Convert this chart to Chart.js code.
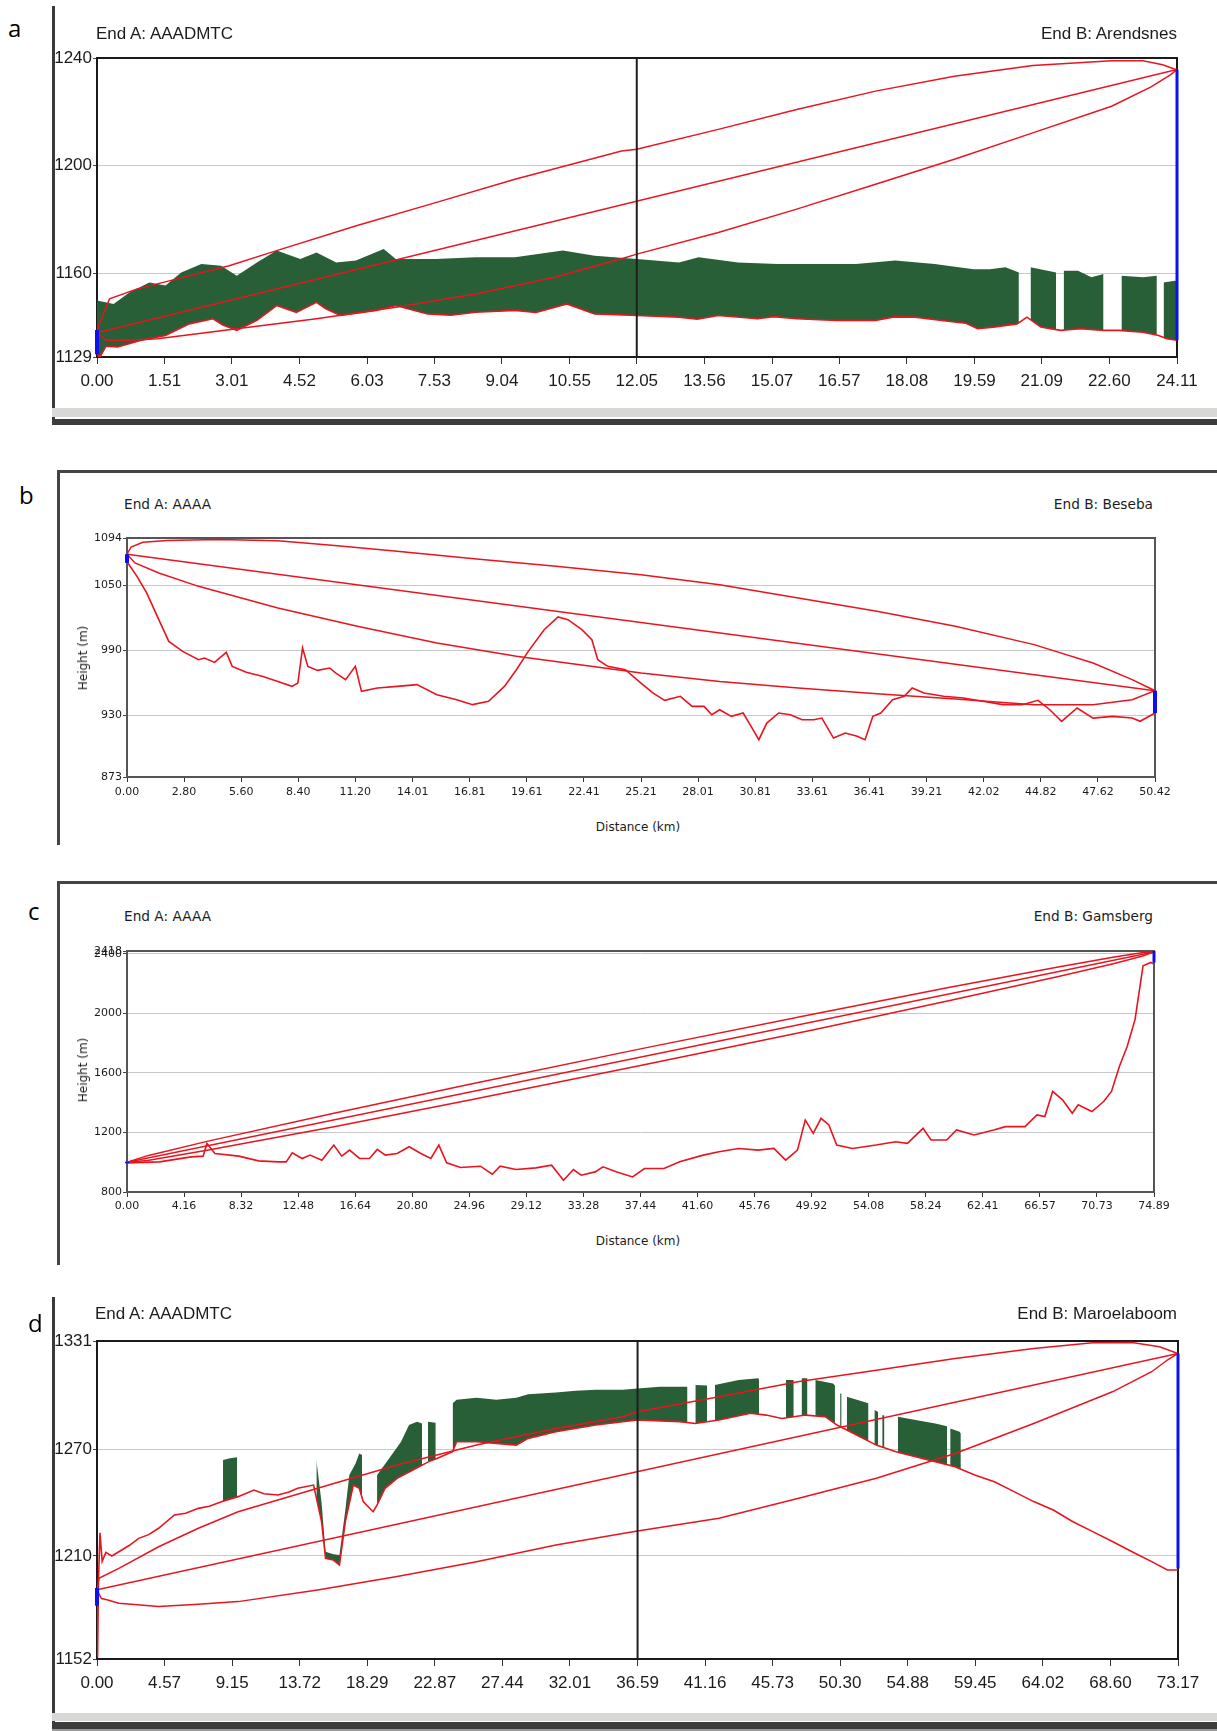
<!DOCTYPE html>
<html lang="en">
<head>
    <meta charset="UTF-8">
    <title>Link profiles</title>
    <script src="https://cdn.jsdelivr.net/npm/chart.js"></script>
    <style>
        body { margin: 0; width: 1217px; height: 1731px; position: relative; overflow: hidden; background: #fff; }
        canvas { position: absolute; }
        .t { position: absolute; white-space: nowrap; line-height: 1; color: #1c1c1c; }
        .big { font-family: 'Liberation Sans', Arial, sans-serif; font-size: 17px; }
        .small { font-family: 'DejaVu Sans', sans-serif; font-size: 13.7px; }
        .axis { font-family: 'DejaVu Sans', sans-serif; font-size: 12px; }
        .letter { font-family: 'Open Sans', 'Noto Sans', sans-serif; font-size: 24px; color: #000; }
        .bar { position: absolute; }
    </style>
</head>
<body>

    <!-- panel a -->
    <canvas id="chartA" width="1177" height="365" style="left:40px; top:40px;"></canvas>
    <div class="t letter" style="left:8px; top:16px;">a</div>
    <div class="t big" style="left:96px; top:25px;">End A: AAADMTC</div>
    <div class="t big" style="right:40px; top:25px;">End B: Arendsnes</div>
    <div class="bar" style="left:52px; top:6px; width:3px; height:419px; background:#3a3a3a;"></div>
    <div class="bar" style="left:52px; top:408px; width:1165px; height:9px; background:#d8d8d6;"></div>
    <div class="bar" style="left:52px; top:419px; width:1165px; height:6px; background:#3c3c3c;"></div>

    <!-- panel b -->
    <canvas id="chartB" width="1147" height="300" style="left:70px; top:520px;"></canvas>
    <div class="t letter" style="left:19px; top:483px;">b</div>
    <div class="t small" style="left:124px; top:498px;">End A: AAAA</div>
    <div class="t small" style="right:64px; top:498px;">End B: Beseba</div>
    <div class="t axis" style="left:83px; top:658px; transform: translate(-50%,-50%) rotate(-90deg);">Height (m)</div>
    <div class="t axis" style="left:638px; top:827px; transform: translate(-50%,-50%);">Distance (km)</div>
    <div class="bar" style="left:57px; top:470px; width:1160px; height:3px; background:#444;"></div>
    <div class="bar" style="left:57px; top:470px; width:3px; height:375px; background:#444;"></div>

    <!-- panel c -->
    <canvas id="chartC" width="1147" height="300" style="left:70px; top:930px;"></canvas>
    <div class="t letter" style="left:28px; top:899px;">c</div>
    <div class="t small" style="left:124px; top:910px;">End A: AAAA</div>
    <div class="t small" style="right:64px; top:910px;">End B: Gamsberg</div>
    <div class="t axis" style="left:83px; top:1070px; transform: translate(-50%,-50%) rotate(-90deg);">Height (m)</div>
    <div class="t axis" style="left:638px; top:1241px; transform: translate(-50%,-50%);">Distance (km)</div>
    <div class="bar" style="left:57px; top:881px; width:1160px; height:3px; background:#444;"></div>
    <div class="bar" style="left:57px; top:881px; width:3px; height:384px; background:#444;"></div>

    <!-- panel d -->
    <canvas id="chartD" width="1177" height="383" style="left:40px; top:1322px;"></canvas>
    <div class="t letter" style="left:28px; top:1311px;">d</div>
    <div class="t big" style="left:95px; top:1305px;">End A: AAADMTC</div>
    <div class="t big" style="right:40px; top:1305px;">End B: Maroelaboom</div>
    <div class="bar" style="left:52px; top:1297px; width:3px; height:434px; background:#3a3a3a;"></div>
    <div class="bar" style="left:52px; top:1713px; width:1165px; height:8px; background:#d8d8d6;"></div>
    <div class="bar" style="left:52px; top:1722px; width:1165px; height:7px; background:#3c3c3c;"></div>
    <div class="bar" style="left:52px; top:1729px; width:1165px; height:2px; background:#9a9a9a;"></div>

    <script>
        // ---- panel a: AAADMTC - Arendsnes (km, m) ----
        const aXTicks = ['0.00','1.51','3.01','4.52','6.03','7.53','9.04','10.55','12.05','13.56','15.07','16.57','18.08','19.59','21.09','22.60','24.11'];
        const aYTicks = ['1129','1160','1200','1240'];
        const aTerrain = [[0,1131],[0.05,1128.5],[0.2,1133],[0.46,1132.7],[0.99,1135.2],[1.53,1137],[2.06,1141.3],[2.59,1143.2],[2.8,1141],[3.12,1138.9],[3.57,1142.6],[4.01,1148.1],[4.45,1145.6],[4.9,1149.3],[5.1,1147],[5.43,1144.4],[6.23,1146.3],[6.67,1148.1],[7.38,1145],[7.9,1144.5],[8.45,1145.6],[9.33,1146.3],[9.8,1145.5],[10.49,1148.7],[11.11,1145],[12.05,1144.4],[12.99,1143.8],[13.4,1143],[13.87,1144.4],[14.75,1143.2],[15.1,1144],[15.62,1143.2],[16.5,1142.6],[17.38,1142.6],[17.8,1143.9],[18.26,1143.8],[19.14,1142],[19.4,1141.5],[19.66,1139.5],[20.01,1140.1],[20.54,1141.3],[20.76,1143.8],[21.07,1140.1],[21.51,1138.9],[21.95,1139.5],[22.47,1138.9],[22.82,1138.9],[23.35,1138.2],[23.7,1137],[23.88,1135.8],[24.11,1135.2]];
        const aClutter = [[0,1150],[0.37,1148.7],[0.73,1153],[1.17,1156.7],[1.53,1155.5],[1.88,1160.4],[2.33,1163.5],[2.77,1162.9],[3.12,1159.2],[3.57,1164.1],[4.01,1168.5],[4.54,1165.4],[4.9,1167.8],[5.34,1164.1],[5.78,1164.8],[6.4,1169.1],[6.67,1165.4],[7.56,1165.4],[8.45,1166],[9.33,1166],[10.4,1168.5],[11.11,1166.6],[12.05,1165.4],[12.99,1164.1],[13.43,1166],[14.31,1164.1],[15.19,1163.5],[16.06,1163.5],[16.94,1163.5],[17.82,1164.8],[18.7,1163.5],[19.57,1161.6],[19.93,1161.6],[20.28,1162.3],[20.58,1160.4],[20.7,null],[20.84,1162.3],[21.41,1160.4],[21.5,null],[21.58,1161],[21.9,1161],[22.2,1158.6],[22.47,1159.8],[22.65,null],[22.87,1159.2],[23.35,1158.6],[23.66,1159.2],[23.74,null],[23.81,1156.7],[24.06,1157.3],[24.11,1157]];
        const aUpper = [[0,1138],[0.02,1140],[0.28,1150.6],[0.9,1154.3],[1.79,1158],[2.95,1162.9],[4.01,1168.5],[5.79,1177.7],[7.56,1186.3],[9.33,1195],[11.71,1205.5],[12.05,1206.1],[13.87,1213.5],[15.62,1220.9],[17.38,1227.7],[19.14,1233.2],[20.89,1237.2],[22.65,1239],[23.35,1239],[23.79,1237.5],[24.05,1235.9],[24.11,1235.7]];
        const aLos = [[0,1138],[24.11,1235.7]];
        const aLower = [[0,1138],[0.2,1135.2],[0.73,1135.2],[1.35,1135.8],[2.24,1137.6],[3.12,1139.5],[4.9,1143.2],[6.67,1147.5],[8.45,1152.4],[10.22,1158.6],[11.71,1165.5],[12.05,1167.2],[13.87,1175.2],[15.62,1183.9],[17.38,1193.1],[19.14,1202.4],[20.89,1212.2],[22.65,1222.1],[23.53,1229.3],[23.97,1233.8],[24.11,1235.7]];
        const aSiteA = [[0,1130],[0,1139]];
        const aSiteB = [[24.11,1135.2],[24.11,1235.7]];
        const aMarker = [[12.05,1129],[12.05,1240]];

        // ---- panel b: AAAA - Beseba ----
        const bXTicks = ['0.00','2.80','5.60','8.40','11.20','14.01','16.81','19.61','22.41','25.21','28.01','30.81','33.61','36.41','39.21','42.02','44.82','47.62','50.42'];
        const bYTicks = ['873','930','990','1050','1094'];
        const bTerrain = [[0,1072],[0.49,1058.5],[0.97,1043.1],[1.56,1018.5],[2.05,998.4],[2.73,989.2],[3.51,981.5],[3.8,983],[4.29,979],[4.87,988.3],[5.16,975.3],[5.85,969.8],[6.63,966.1],[7.4,961.4],[8.09,956.8],[8.38,959.9],[8.61,992.3],[8.87,975.3],[9.35,971.6],[9.94,973.8],[10.23,969.2],[10.72,963],[11.2,975.3],[11.5,952.2],[12.28,955.3],[13.25,956.8],[14.22,958.4],[15.2,949.1],[16.17,944.5],[16.95,939.9],[17.73,943],[18.51,956.8],[19.1,972.2],[19.68,989.2],[20.46,1009.2],[21.14,1021],[21.63,1018.5],[22.31,1009.2],[22.8,1000],[23.09,981.5],[23.58,975.3],[24.44,972.2],[25.21,959.9],[25.79,950.7],[26.37,943.9],[27.14,947.6],[27.72,938.3],[28.3,938.3],[28.68,930.6],[29.07,935.2],[29.64,929.1],[30.22,932.2],[30.61,919.8],[30.99,907.5],[31.38,922.9],[31.96,932.2],[32.53,930.6],[33.11,926],[33.69,926],[34.08,927.5],[34.65,909],[35.23,913.7],[35.81,910.6],[36.2,907.5],[36.58,929.1],[36.97,932.2],[37.55,944.5],[38.12,947.6],[38.51,955.3],[39.09,950.7],[40.05,947.6],[41.02,946],[41.98,943],[42.95,939.9],[43.91,939.9],[44.68,943.9],[45.26,935.2],[45.84,924.5],[46.6,936.8],[47.38,927.5],[48.34,929.1],[49.3,927.5],[49.69,924.5],[50.42,932.2]];
        const bUpper = [[0,1079],[0.2,1085.7],[0.78,1090],[1.95,1091.8],[4.48,1092.5],[7.4,1091.5],[10.33,1086.9],[13.25,1081.7],[17.15,1074.6],[21.04,1067.8],[25.21,1060.1],[29.07,1050.8],[32.92,1038.5],[36.78,1026.2],[40.63,1012.3],[44.49,995.4],[47.38,978.4],[49.3,963],[50.42,952.8]];
        const bLos = [[0,1079],[50.42,952.8]];
        const bLower = [[0,1079],[0.39,1070.9],[1.56,1061.6],[3.51,1049.3],[7.4,1029.3],[11.3,1012.3],[15.2,996.9],[19.1,984.6],[24.32,971.5],[25.21,969.2],[29.07,961.4],[32.92,955.3],[36.78,950],[40.63,945.1],[44.49,939.9],[47.38,939.9],[49.3,944.5],[50.42,952.8]];
        const bSiteA = [[0,1071],[0,1079]];
        const bSiteB = [[50.42,932.2],[50.42,952.8]];

        // ---- panel c: AAAA - Gamsberg ----
        const cXTicks = ['0.00','4.16','8.32','12.48','16.64','20.80','24.96','29.12','33.28','37.44','41.60','45.76','49.92','54.08','58.24','62.41','66.57','70.73','74.89'];
        const cYTicks = ['800','1200','1600','2000','2400','2418'];
        const cTerrain = [[0,995.7],[2.37,1002.5],[4.68,1036],[5.55,1040.7],[5.83,1126],[6.41,1058.7],[8.15,1040.7],[9.59,1009.2],[11.03,1002.5],[11.61,1002.5],[12.05,1063.2],[12.77,1025],[13.35,1047.5],[14.21,1013.7],[15.08,1115],[15.66,1040.7],[16.23,1081.2],[16.96,1025],[17.68,1025],[18.25,1085.7],[18.83,1047.5],[19.7,1058.7],[20.57,1103.7],[21.43,1058.7],[22.16,1025],[22.74,1115],[23.31,995.7],[24.32,964.2],[25.77,973.2],[26.64,919.2],[27.21,973.2],[28.37,950.7],[29.81,962],[30.96,980],[31.83,878.7],[32.55,950.7],[33.12,912.5],[34.14,935],[34.71,968.7],[35.72,935],[36.87,901.2],[37.73,957.5],[39.16,957.5],[40.3,1002.5],[42.02,1047.5],[43.17,1070],[44.6,1092.5],[46.03,1081.2],[47.17,1092.5],[48.03,1013.7],[48.89,1081.2],[49.46,1283.7],[50.04,1193.7],[50.61,1295],[51.18,1250],[51.75,1115],[52.9,1092.5],[54.62,1115],[56.05,1137.5],[56.91,1126.2],[58.05,1227.5],[58.63,1148.7],[59.77,1148.7],[60.49,1216.2],[61.77,1182.5],[63.2,1216.2],[64.06,1238.7],[65.49,1238.7],[66.35,1317.5],[66.93,1306.2],[67.5,1475],[68.22,1418.7],[68.93,1328.7],[69.36,1385],[70.36,1340],[71.22,1407.5],[71.79,1475],[72.37,1643.7],[72.94,1778.7],[73.51,1958.7],[74.09,2318.6],[74.66,2341],[74.89,2329.8]];
        const cUpper = [[0,1000],[1.5,1044],[5.83,1140],[15,1327],[25,1523],[37.44,1761],[50,1994],[60,2174],[68,2313],[72,2377],[74,2407],[74.89,2412]];
        const cLos = [[0,1000],[74.89,2412]];
        const cLower = [[0,1000],[1.5,1012],[5.83,1080],[15,1237],[25,1418],[37.44,1649],[50,1888],[60,2085],[68,2248],[72,2334],[74,2383],[74.89,2412]];
        const cSiteA = [[0,993],[0,1003]];
        const cSiteB = [[74.89,2341],[74.89,2418]];

        // ---- panel d: AAADMTC - Maroelaboom ----
        const dXTicks = ['0.00','4.57','9.15','13.72','18.29','22.87','27.44','32.01','36.59','41.16','45.73','50.30','54.88','59.45','64.02','68.60','73.17'];
        const dYTicks = ['1152','1210','1270','1331'];
        const dTerrain = [[0,1190],[0.04,1153],[0.1,1196],[0.2,1223],[0.35,1207],[0.6,1212],[1.0,1210],[1.48,1212.4],[2.2,1216],[2.82,1219.9],[3.5,1222],[4.17,1225.6],[5.24,1233.1],[6.0,1234],[6.86,1236.8],[7.6,1238],[8.47,1240.6],[9.55,1243.4],[10.62,1247.1],[11.3,1245],[12.24,1244.3],[13.0,1246],[13.58,1248.1],[14.66,1249.9],[15.2,1229.3],[15.47,1208.7],[16,1207.7],[16.41,1204.9],[16.81,1229.3],[17.35,1249.9],[17.75,1248.1],[18.02,1240.6],[18.69,1234.9],[18.96,1238.7],[19.5,1248.1],[20.31,1253.7],[21.38,1258.4],[22.46,1263.1],[23,1264.9],[24.07,1268.7],[24.34,1274.3],[25.69,1274.3],[27.03,1273.4],[28.38,1272.4],[29.18,1276.2],[31.06,1279.9],[33.75,1283.7],[35.58,1285.6],[36.59,1286.5],[39.44,1285.6],[40.5,1284.6],[42.1,1286.5],[44.23,1290.3],[45.3,1289.3],[46.36,1287.4],[47.96,1289.3],[49.29,1288.4],[50.09,1283.7],[51.42,1278.1],[52.75,1272.4],[54.08,1268.7],[55.41,1265.9],[56.74,1263.1],[58.08,1260.2],[59.41,1255.6],[60.74,1251.8],[62.07,1246.2],[63.4,1240.6],[64.73,1235.9],[66.06,1229.3],[67.4,1223.7],[68.73,1218.1],[70.06,1212.4],[71.39,1206.8],[72.45,1202.1],[73.17,1202.1]];
        const dClutter = [[8.53,1264],[9.0,1265],[9.49,1265.5],[9.5,null],[14.85,1264],[15.2,1240],[15.47,1212.4],[16.0,1211],[16.41,1210.6],[16.81,1236],[17.08,1255.6],[17.5,1262],[17.75,1267.7],[17.94,1266.8],[18.0,null],[18.96,1255.6],[19.77,1264.9],[20.58,1274.3],[21.12,1283.7],[21.66,1285.6],[22.0,1284.6],[22.1,null],[22.4,1285.6],[22.93,1285],[23.0,null],[24.07,1296],[24.34,1298],[25.69,1299],[27.03,1298],[28.38,1299],[29.18,1301],[31.06,1302],[32.4,1303],[33.75,1303.5],[35.58,1303.5],[36.59,1304.3],[38.11,1305.3],[39.97,1305.3],[40.1,null],[40.5,1306.2],[41.3,1306],[41.4,null],[41.83,1306.2],[43.43,1309],[44.76,1310],[44.82,1309],[44.9,null],[46.63,1309],[47.16,1309],[47.2,null],[47.69,1310],[48.09,1310],[48.2,null],[48.62,1309],[49.82,1307.1],[49.95,1306],[50.0,null],[50.3,1301.5],[50.4,1301.5],[50.5,null],[50.75,1299.6],[52.22,1295.9],[52.3,null],[52.62,1292.1],[52.88,1291],[52.95,null],[53.15,1289.3],[53.3,1289],[53.4,null],[54.21,1288.4],[55.41,1286.5],[56.74,1284.6],[57.54,1283],[57.6,null],[57.75,1281.8],[58.39,1279.9],[58.47,1279]];
        const dUpper = [[0,1190],[0.13,1197.4],[1.48,1203],[4.17,1215.2],[6.86,1225.6],[9.55,1234.9],[14.93,1248.1],[20.31,1261.2],[25.69,1272.4],[31.06,1281.8],[35.58,1288.4],[36.59,1291.2],[42.1,1299.6],[47.43,1308.1],[52.75,1314.6],[58.08,1321.2],[63.4,1326.8],[67.4,1330],[70.06,1330.2],[71.92,1327.8],[73.17,1324]];
        const dLos = [[0,1191],[73.17,1324]];
        const dLower = [[0,1191],[0.3,1186],[0.67,1185.3],[1.48,1183.4],[4.17,1181.5],[6.86,1182.8],[9.55,1184.3],[14.93,1190.9],[20.31,1198.4],[25.69,1206.8],[31.06,1216.2],[35.58,1222.7],[36.59,1224],[42.1,1231.2],[47.43,1242.4],[52.75,1253.7],[58.08,1267.7],[63.4,1284.6],[68.73,1302.4],[71.39,1313.7],[72.45,1320.3],[73.17,1324]];
        const dSiteA = [[0,1182],[0,1192]];
        const dSiteB = [[73.17,1203],[73.17,1324]];
        const dMarker = [[36.59,1152],[36.59,1331]];

        const RED = '#e8141e';
        const GREEN = '#285f37';
        const BLUE = '#0a10f0';

        // borde del area del grafico
        const plotFrame = {
            id: 'plotFrame',
            beforeDatasetsDraw(chart, args, opts) {
                const a = chart.chartArea;
                const ctx = chart.ctx;
                ctx.save();
                ctx.strokeStyle = opts.color;
                ctx.lineWidth = opts.width;
                ctx.strokeRect(a.left, a.top, a.right - a.left, a.bottom - a.top);
                ctx.restore();
            }
        };

        function toXY(pairs) {
            return pairs.map(p => ({ x: p[0], y: p[1] }));
        }

        function lineSet(pairs, color, width, order, extra) {
            return Object.assign({
                data: toXY(pairs), borderColor: color, backgroundColor: color,
                borderWidth: width, pointRadius: 0, tension: 0, fill: false,
                spanGaps: false, order: order
            }, extra || {});
        }

        function drawProfile(id, p) {
            const ds = [lineSet(p.terrain, RED, 1.6, 3)];
            if (p.clutter) ds.push(lineSet(p.clutter, GREEN, 0, 6, { fill: 0 }));
            ds.push(lineSet(p.upper, RED, 1.5, 2));
            ds.push(lineSet(p.los, RED, 1.5, 2));
            ds.push(lineSet(p.lower, RED, 1.5, 2));
            if (p.marker) ds.push(lineSet(p.marker, '#1e1e1e', 2, 1));
            ds.push(lineSet(p.siteA, BLUE, 4, 0, { clip: 5 }));
            ds.push(lineSet(p.siteB, BLUE, p.siteWidth, 0, { clip: 5 }));

            const font = p.big
                ? { family: "'Liberation Sans', Arial, sans-serif", size: 17 }
                : { family: "'DejaVu Sans', sans-serif", size: 11 };

            new Chart(document.getElementById(id), {
                type: 'line',
                data: { datasets: ds },
                options: {
                    responsive: false,
                    animation: false,
                    devicePixelRatio: 1,
                    layout: { padding: { top: p.padTop, right: p.padRight, left: 0, bottom: 0 } },
                    plugins: {
                        legend: { display: false },
                        tooltip: { enabled: false },
                        plotFrame: { color: p.big ? '#1a1a1a' : '#555', width: 2 }
                    },
                    scales: {
                        x: {
                            type: 'linear',
                            min: 0,
                            max: parseFloat(p.xTicks[p.xTicks.length - 1]),
                            afterBuildTicks: s => { s.ticks = p.xTicks.map(t => ({ value: parseFloat(t) })); },
                            afterFit: s => { s.height = p.xh; },
                            ticks: { autoSkip: false, maxRotation: 0, font: font, color: '#1c1c1c', padding: p.xPad,
                                     callback: (v, i) => p.xTicks[i] },
                            grid: { drawOnChartArea: false, tickLength: p.big ? 7 : 5, tickColor: '#333' },
                            border: { display: false }
                        },
                        y: {
                            type: 'linear',
                            min: parseFloat(p.yTicks[0]),
                            max: parseFloat(p.yTicks[p.yTicks.length - 1]),
                            afterBuildTicks: s => { s.ticks = p.yTicks.map(t => ({ value: parseFloat(t) })); },
                            afterFit: s => { s.width = p.yw; },
                            ticks: { autoSkip: false, font: font, color: '#1c1c1c', padding: 1,
                                     callback: (v, i) => p.yTicks[i] },
                            grid: { color: '#c8c8c8', tickLength: 4, tickColor: '#444' },
                            border: { display: false }
                        }
                    }
                },
                plugins: [plotFrame]
            });
        }

        drawProfile('chartA', {
            xTicks: aXTicks, yTicks: aYTicks, terrain: aTerrain, clutter: aClutter,
            upper: aUpper, los: aLos, lower: aLower, marker: aMarker,
            siteA: aSiteA, siteB: aSiteB, siteWidth: 3,
            big: true, padTop: 18, padRight: 40, yw: 57, xh: 48, xPad: 7
        });

        drawProfile('chartB', {
            xTicks: bXTicks, yTicks: bYTicks, terrain: bTerrain,
            upper: bUpper, los: bLos, lower: bLower,
            siteA: bSiteA, siteB: bSiteB, siteWidth: 4,
            big: false, padTop: 18, padRight: 62, yw: 57, xh: 43, xPad: 4
        });

        drawProfile('chartC', {
            xTicks: cXTicks, yTicks: cYTicks, terrain: cTerrain,
            upper: cUpper, los: cLos, lower: cLower,
            siteA: cSiteA, siteB: cSiteB, siteWidth: 3,
            big: false, padTop: 21, padRight: 63, yw: 57, xh: 38, xPad: 3
        });

        drawProfile('chartD', {
            xTicks: dXTicks, yTicks: dYTicks, terrain: dTerrain, clutter: dClutter,
            upper: dUpper, los: dLos, lower: dLower, marker: dMarker,
            siteA: dSiteA, siteB: dSiteB, siteWidth: 3,
            big: true, padTop: 19, padRight: 39, yw: 57, xh: 46, xPad: 7
        });
    </script>

</body>
</html>
